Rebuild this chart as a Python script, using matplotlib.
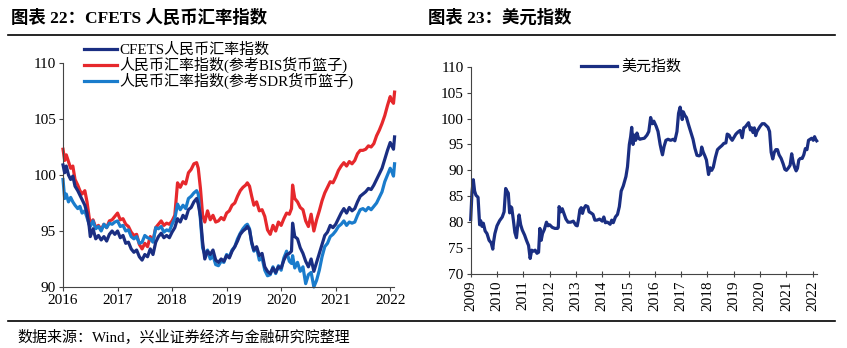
import matplotlib
matplotlib.use('Agg')
import numpy as np
from matplotlib import pyplot as plt
from matplotlib.lines import Line2D

FONT = ['Liberation Serif', 'Noto Sans CJK SC']
plt.rcParams['font.family'] = FONT
plt.rcParams['axes.unicode_minus'] = False

# CFETS basket indices, 2016 - early 2022 (decimal year)
cfets_t = [2016.0, 2016.03, 2016.06, 2016.1, 2016.14, 2016.18, 2016.22, 2016.27, 2016.31,
           2016.35, 2016.4, 2016.44, 2016.48, 2016.5, 2016.55, 2016.6, 2016.65, 2016.7,
           2016.75, 2016.8, 2016.85, 2016.9, 2016.95, 2017.0, 2017.05, 2017.1, 2017.15,
           2017.2, 2017.25, 2017.3, 2017.35, 2017.4, 2017.45, 2017.5, 2017.55, 2017.6,
           2017.65, 2017.7, 2017.75, 2017.8, 2017.85, 2017.9, 2017.95, 2018.0, 2018.05,
           2018.1, 2018.15, 2018.2, 2018.25, 2018.3, 2018.35, 2018.4, 2018.45, 2018.48,
           2018.52, 2018.56, 2018.6, 2018.65, 2018.7, 2018.75, 2018.8, 2018.85, 2018.9,
           2018.95, 2019.0, 2019.05, 2019.1, 2019.15, 2019.2, 2019.25, 2019.3, 2019.35,
           2019.38, 2019.42, 2019.46, 2019.5, 2019.55, 2019.6, 2019.65, 2019.7, 2019.75,
           2019.8, 2019.85, 2019.9, 2019.95, 2020.0, 2020.05, 2020.1, 2020.15, 2020.19,
           2020.21, 2020.25, 2020.3, 2020.35, 2020.4, 2020.45, 2020.5, 2020.55, 2020.6,
           2020.65, 2020.7, 2020.75, 2020.8, 2020.85, 2020.9, 2020.95, 2021.0, 2021.05,
           2021.1, 2021.15, 2021.2, 2021.25, 2021.3, 2021.35, 2021.4, 2021.45, 2021.5,
           2021.55, 2021.6, 2021.65, 2021.7, 2021.75, 2021.8, 2021.85, 2021.9, 2021.95,
           2022.0, 2022.03, 2022.06, 2022.08]
cfets = [100.9, 100.2, 100.8, 100.0, 99.6, 99.9, 99.0, 98.6, 98.2,
         97.8, 97.3, 96.6, 95.4, 94.5, 95.2, 94.3, 94.6, 94.2,
         94.5, 94.1, 94.7, 95.0, 94.7, 95.0, 94.4, 94.6, 93.9,
         94.0, 93.4, 93.1, 93.3, 92.7, 92.4, 92.9, 92.7, 93.4,
         92.9, 94.0, 94.5, 94.8, 94.4, 94.6, 94.4, 94.9, 95.3,
         96.1, 95.8, 96.4, 96.1, 96.9, 97.1, 97.6, 97.9, 97.4,
         96.3, 94.0, 92.5, 93.2, 92.9, 93.3, 92.4, 92.2, 92.5,
         92.3, 92.8, 92.6, 93.2, 93.6, 94.1, 94.7, 95.0, 95.2,
         95.4, 95.1, 94.0, 93.3, 93.6, 92.8, 93.0, 91.8, 91.4,
         91.2, 91.7, 91.3, 91.8, 91.7, 92.4, 92.9, 93.0, 93.2,
         95.7, 94.5, 94.3, 93.5, 93.0, 92.3, 91.8, 92.5, 91.4,
         92.2, 93.0, 93.8, 94.6, 94.9, 95.5, 95.3, 95.6, 96.1,
         96.6, 97.0, 96.6, 97.1, 96.8, 97.0, 97.6, 98.1, 98.3,
         98.5, 98.8, 98.7, 99.1, 99.6, 100.1, 100.6, 101.4, 102.2,
         102.9, 102.6, 102.3, 103.4]
bis = [102.3, 101.3, 101.8, 101.2, 100.6, 100.8, 99.6, 99.1, 98.6,
       98.3, 98.6, 97.6, 96.2, 95.6, 96.0, 95.3, 95.5, 95.1,
       95.6, 95.3, 95.9, 96.0, 96.3, 96.6, 96.0, 96.1, 95.6,
       95.4, 94.9, 94.6, 94.7, 93.8, 93.4, 93.9, 93.6, 94.5,
       94.1, 95.3, 95.6, 95.9, 95.5, 95.7, 95.6, 95.9, 96.4,
       99.3, 98.9, 99.4, 99.2, 100.2, 100.5, 101.0, 101.1, 100.6,
       98.8, 96.4, 95.8, 96.8, 96.0, 96.4, 95.8, 95.9, 96.2,
       96.0, 96.6, 96.8, 97.3, 97.5, 98.1, 98.6, 98.9, 99.1,
       99.3, 99.0, 98.1, 97.3, 97.6, 96.8, 96.9, 96.3, 95.1,
       94.7, 95.5, 95.0, 95.8, 95.5, 96.1, 96.6, 96.5, 97.0,
       99.1, 97.9, 97.6, 97.1, 96.9, 95.9, 95.4, 96.5, 95.0,
       96.0, 96.8, 97.7, 98.4, 98.9, 99.4, 99.3, 99.8, 100.4,
       100.8, 101.1, 100.8, 101.2, 101.0, 101.3, 101.9, 102.2, 102.2,
       102.3, 102.6, 102.5, 102.8, 103.5, 104.0, 104.6, 105.3, 106.2,
       107.0, 106.6, 106.4, 107.4]
sdr = [99.6, 97.9, 98.3, 97.6, 98.0, 97.6, 97.3, 97.0, 97.2,
       96.6, 96.8, 96.2, 95.6, 95.4, 95.9, 95.2, 95.4, 95.0,
       95.6, 95.3, 95.7, 95.6, 95.8, 95.9, 95.4, 95.5, 95.0,
       95.1, 94.5, 94.3, 94.5, 93.9, 94.0, 94.6, 94.4, 94.3,
       94.0, 95.3, 95.2, 95.4, 94.9, 95.1, 95.0, 95.6, 96.1,
       97.4, 96.9, 97.3, 97.0, 97.9, 98.1, 98.4, 98.6, 98.3,
       96.0, 93.5, 92.9, 93.3, 92.5, 92.8, 92.0, 91.9, 92.3,
       92.2, 92.9, 92.7, 93.3, 93.6, 94.3, 94.8, 95.2, 95.5,
       95.6, 95.2, 93.9, 93.2, 93.5, 92.4, 92.6, 91.5, 91.0,
       91.1, 91.8, 91.2, 91.9, 91.5, 92.6, 93.2, 92.3, 92.1,
       92.8, 91.7, 92.2, 91.4, 91.8, 90.3, 91.1, 91.3, 90.0,
       90.6, 91.5, 92.7, 93.6, 93.9, 94.5, 94.7, 95.0, 95.4,
       95.6, 95.9, 95.5, 95.8, 95.7, 95.8, 96.4, 96.9, 97.0,
       96.8, 97.1, 96.9, 97.2, 97.5, 98.0, 98.5, 99.4, 100.0,
       100.6, 100.3, 99.9, 101.0]

# US dollar index, 2009 - early 2022
dxy_t = [2009.0, 2009.05, 2009.1, 2009.15, 2009.2, 2009.28, 2009.34, 2009.38, 2009.43,
         2009.48, 2009.55, 2009.62, 2009.7, 2009.78, 2009.84, 2009.87, 2009.92, 2010.0,
         2010.1, 2010.2, 2010.27, 2010.33, 2010.38, 2010.43, 2010.48, 2010.52, 2010.56,
         2010.62, 2010.68, 2010.74, 2010.78, 2010.84, 2010.9, 2010.96, 2011.05, 2011.12,
         2011.2, 2011.26, 2011.32, 2011.38, 2011.45, 2011.52, 2011.58, 2011.63, 2011.68,
         2011.73, 2011.8, 2011.88, 2011.94, 2012.0, 2012.1, 2012.2, 2012.3, 2012.33,
         2012.36, 2012.42, 2012.48, 2012.55, 2012.62, 2012.7, 2012.8, 2012.9, 2013.0,
         2013.05, 2013.1, 2013.15, 2013.2, 2013.25, 2013.3, 2013.37, 2013.45, 2013.5,
         2013.57, 2013.65, 2013.72, 2013.8, 2013.9, 2014.0, 2014.06, 2014.12, 2014.2,
         2014.3, 2014.36, 2014.42, 2014.5, 2014.58, 2014.65, 2014.72, 2014.8, 2014.9,
         2014.96, 2015.03, 2015.08, 2015.12, 2015.17, 2015.22, 2015.27, 2015.32, 2015.38,
         2015.43, 2015.5, 2015.6, 2015.7, 2015.77, 2015.84, 2015.9, 2015.96, 2016.05,
         2016.12, 2016.2, 2016.25, 2016.29, 2016.35, 2016.42, 2016.5, 2016.6, 2016.7,
         2016.76, 2016.84, 2016.9, 2016.96, 2017.0, 2017.04, 2017.08, 2017.14, 2017.2,
         2017.28, 2017.36, 2017.45, 2017.52, 2017.6, 2017.68, 2017.74, 2017.78, 2017.84,
         2017.9, 2017.96, 2018.04, 2018.1, 2018.16, 2018.22, 2018.3, 2018.38, 2018.46,
         2018.55, 2018.62, 2018.7, 2018.75, 2018.82, 2018.88, 2018.94, 2019.0, 2019.08,
         2019.16, 2019.24, 2019.32, 2019.38, 2019.44, 2019.5, 2019.56, 2019.63, 2019.68,
         2019.73, 2019.78, 2019.83, 2019.88, 2019.94, 2020.0, 2020.08, 2020.16, 2020.24,
         2020.3, 2020.36, 2020.42, 2020.48, 2020.54, 2020.6, 2020.66, 2020.72, 2020.8,
         2020.88, 2020.94, 2021.0, 2021.08, 2021.14, 2021.2, 2021.26, 2021.32, 2021.37,
         2021.42, 2021.47, 2021.53, 2021.6, 2021.66, 2021.72, 2021.78, 2021.84, 2021.9,
         2021.96, 2022.02, 2022.07, 2022.11, 2022.15]
dxy = [80.5, 85.8, 88.2, 86.0, 85.2, 84.8, 79.5, 80.3, 79.2,
       79.8, 78.3, 77.8, 76.5, 76.0, 74.8, 76.2, 77.8, 79.3,
       80.3, 81.0, 82.0, 86.5, 86.0, 85.6, 81.8, 83.0, 82.8,
       80.5, 78.0, 77.0, 79.0, 81.4, 79.5, 78.5, 77.5, 76.5,
       75.5, 73.0, 74.6, 74.4, 74.6, 74.0, 74.2, 78.8, 76.5,
       77.8, 78.6, 80.0, 79.3, 79.5, 79.0, 78.8, 78.8, 79.0,
       83.0, 82.0, 82.6, 81.6, 80.6, 80.0, 80.0, 80.2, 79.4,
       79.3, 80.6, 82.4, 82.8, 81.7, 82.6, 83.2, 83.0, 82.0,
       81.8, 81.5, 80.4, 80.4, 80.6, 80.2, 81.0, 79.9, 80.0,
       79.6, 80.4, 79.9, 81.0, 81.5, 83.0, 86.0, 87.0, 88.8,
       90.7, 95.0, 96.5, 98.3, 95.0, 96.8, 95.8, 97.2, 96.2,
       96.0, 96.1, 96.2, 96.8, 97.5, 100.2, 99.0, 99.5, 98.5,
       97.5, 95.0, 93.8, 93.0, 94.6, 95.8, 96.0, 95.8, 96.0,
       95.7, 97.5, 101.0, 102.2, 101.2, 99.8, 101.3, 100.6, 100.2,
       98.8, 97.5, 96.0, 94.3, 92.9, 92.8, 93.0, 94.5, 93.5,
       92.8, 92.0, 89.2, 90.5, 90.0, 90.6, 92.5, 94.0, 94.4,
       94.8, 95.2, 95.3, 97.0, 96.8, 96.2, 95.8, 96.3, 97.0,
       97.4, 97.7, 96.3, 98.2, 98.4, 98.8, 99.2, 97.8, 98.2,
       97.3, 98.2, 96.7, 97.5, 98.0, 98.5, 99.0, 99.0, 98.6,
       98.3, 97.5, 93.5, 92.2, 93.5, 94.0, 94.0, 93.0, 92.3,
       91.2, 90.2, 90.0, 90.5, 91.0, 93.2, 91.5, 90.5, 89.9,
       90.4, 92.0, 92.3, 92.3, 93.0, 94.2, 94.0, 95.8, 96.0,
       96.2, 95.8, 96.5, 96.0, 95.7]

NAVY = '#1a2e82'
RED = '#e6282c'
SKY = '#1a7ccc'
LW = 2.3

fig = plt.figure(figsize=(8.47, 3.48), dpi=100)

# panel titles, separator rules, source note
for x0, txt in [(0.013, '图表 22：CFETS 人民币汇率指数'), (0.505, '图表 23：美元指数')]:
    fig.text(x0, 0.948, txt, fontsize=12.5, fontweight='bold', va='center', ha='left')
for y0 in (0.900, 0.077):
    fig.add_artist(Line2D([0.009, 0.986], [y0, y0], color='black', lw=1.2))
fig.text(0.020, 0.033, '数据来源：Wind，兴业证券经济与金融研究院整理', fontsize=10.8, va='center')


def style_axes(ax):
    for side in ('top', 'right'):
        ax.spines[side].set_visible(False)
    for side in ('left', 'bottom'):
        ax.spines[side].set_color('#444444')
        ax.spines[side].set_linewidth(0.8)
    ax.tick_params(direction='out', length=3, width=0.8, color='#444444', labelsize=11, pad=2)


# left: CFETS indices
ax1 = fig.add_axes([0.0744, 0.1753, 0.3908, 0.6437])
ax1.plot(cfets_t, cfets, color=NAVY, lw=LW, label='CFETS人民币汇率指数', zorder=3)
ax1.plot(cfets_t, bis, color=RED, lw=LW, label='人民币汇率指数(参考BIS货币篮子)', zorder=2)
ax1.plot(cfets_t, sdr, color=SKY, lw=LW, label='人民币汇率指数(参考SDR货币篮子)', zorder=2)
ax1.set_xlim(2016, 2022.07)
ax1.set_ylim(90, 110)
ax1.set_yticks([90, 95, 100, 105, 110])
ax1.set_xticks(range(2016, 2023))
style_axes(ax1)
for l in ax1.get_lines():
    l.set_clip_on(False)
ax1.legend(loc='upper left', bbox_to_anchor=(0.04, 1.125), frameon=False, fontsize=10.8,
           handlelength=2.2, handletextpad=0.2, labelspacing=0.0, borderpad=0)

# right: dollar index
ax2 = fig.add_axes([0.5557, 0.2126, 0.4085, 0.5957])
ax2.plot(dxy_t, dxy, color=NAVY, lw=LW, label='美元指数', clip_on=False)
ax2.set_xlim(2009, 2022.15)
ax2.set_ylim(70, 110)
ax2.set_yticks(range(70, 111, 5))
ax2.set_xticks(range(2009, 2023))
style_axes(ax2)
ax2.tick_params(axis='x', direction='inout', length=5, labelrotation=90)
ax2.legend(loc='upper center', bbox_to_anchor=(0.465, 1.07), frameon=False, fontsize=10.8,
           handlelength=2.4, handletextpad=0.3, borderpad=0)

fig.savefig('out.png', dpi=100)
